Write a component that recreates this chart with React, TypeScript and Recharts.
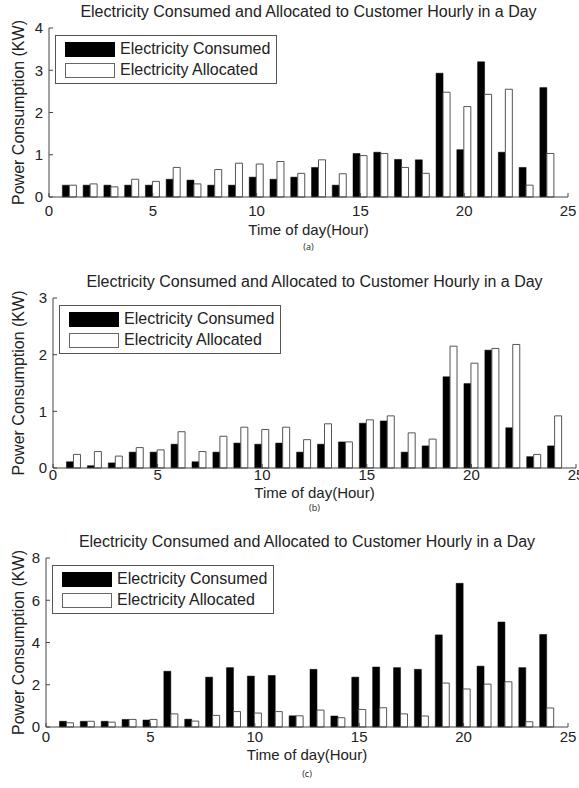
import React from "react";
import { BarChart, Bar, XAxis, YAxis, Legend, Label } from "recharts";

const hours = [1, 2, 3, 4, 5, 6, 7, 8, 9, 10, 11, 12, 13, 14, 15, 16, 17, 18, 19, 20, 21, 22, 23, 24];
const xTicks = [0, 5, 10, 15, 20, 25];

// (a)
const consumedA = [0.28, 0.28, 0.28, 0.28, 0.28, 0.42, 0.4, 0.28, 0.28, 0.47, 0.42, 0.47, 0.7, 0.28, 1.03, 1.06, 0.89, 0.88, 2.93, 1.12, 3.2, 1.06, 0.7, 2.59];
const allocatedA = [0.28, 0.31, 0.24, 0.42, 0.37, 0.7, 0.31, 0.65, 0.8, 0.78, 0.84, 0.56, 0.88, 0.55, 0.98, 1.03, 0.7, 0.56, 2.48, 2.14, 2.43, 2.55, 0.28, 1.03];
const yTicksA = [0, 1, 2, 3, 4];

// (b)
const consumedB = [0.11, 0.04, 0.09, 0.28, 0.28, 0.42, 0.11, 0.28, 0.44, 0.42, 0.44, 0.28, 0.42, 0.46, 0.79, 0.83, 0.28, 0.39, 1.61, 1.49, 2.08, 0.71, 0.2, 0.39];
const allocatedB = [0.24, 0.29, 0.21, 0.36, 0.32, 0.64, 0.29, 0.56, 0.72, 0.68, 0.72, 0.5, 0.78, 0.46, 0.85, 0.92, 0.62, 0.51, 2.15, 1.85, 2.11, 2.18, 0.24, 0.92];
const yTicksB = [0, 1, 2, 3];

// (c)
const consumedC = [0.27, 0.27, 0.27, 0.36, 0.33, 2.64, 0.37, 2.36, 2.81, 2.41, 2.44, 0.53, 2.73, 0.52, 2.36, 2.84, 2.81, 2.73, 4.36, 6.8, 2.88, 4.97, 2.81, 4.38];
const allocatedC = [0.2, 0.27, 0.23, 0.36, 0.36, 0.62, 0.28, 0.55, 0.73, 0.66, 0.73, 0.53, 0.8, 0.44, 0.83, 0.91, 0.62, 0.52, 2.08, 1.8, 2.03, 2.14, 0.25, 0.9];
const yTicksC = [0, 2, 4, 6, 8];

const seriesNames = ["Electricity Consumed", "Electricity Allocated"];
const titleText = "Electricity Consumed and Allocated to Customer Hourly in a Day";

const FONT = "'Liberation Sans', Arial, sans-serif";
const INK = "#222";
const AXIS = "#444";
const FS = 16;
const TICK_FS = 15;

const LegendBox = () => (
  <div
    style={{
      width: 222,
      height: 49,
      boxSizing: "border-box",
      border: "1px solid #555",
      background: "#fff",
      fontFamily: FONT,
      fontSize: FS,
      color: INK,
      position: "relative",
    }}
  >
    {seriesNames.map((name, i) => (
      <div
        key={name}
        style={{ position: "absolute", left: 9, top: 5 + i * 21, height: 16, display: "flex", alignItems: "center" }}
      >
        <span
          style={{
            display: "inline-block",
            width: 50,
            height: 15,
            boxSizing: "border-box",
            background: i === 0 ? "#000" : "#fff",
            border: i === 0 ? "1px solid #000" : "1px solid #666",
          }}
        />
        <span style={{ marginLeft: 5, whiteSpace: "nowrap" }}>{name}</span>
      </div>
    ))}
  </div>
);

type PanelProps = {
  top: number;
  height: number;
  plotLeft: number;
  plotRight: number;
  plotTop: number;
  plotBottom: number;
  yTicks: number[];
  consumed: number[];
  allocated: number[];
  tag: string;
  titleY: number;
  tickMargin: number;
  xLabelOffset: number;
  tagY: number;
};

const Panel = (p: PanelProps) => {
  const data = hours.map((h, i) => ({ hour: h, consumed: p.consumed[i], allocated: p.allocated[i] }));
  const yMax = p.yTicks[p.yTicks.length - 1];
  const plotCenter = (p.plotLeft + p.plotRight) / 2;
  return (
    <div style={{ position: "absolute", left: 0, top: p.top, width: 579, height: p.height }}>
      <div
        style={{
          position: "absolute",
          left: plotCenter - 270,
          width: 540,
          top: p.titleY - 10,
          lineHeight: "20px",
          textAlign: "center",
          fontFamily: FONT,
          fontSize: FS,
          color: INK,
          whiteSpace: "nowrap",
        }}
      >
        {titleText}
      </div>
      <BarChart
        width={579}
        height={p.height}
        data={data}
        margin={{ top: p.plotTop, right: 579 - p.plotRight, left: 0, bottom: 0 }}
        barGap={0}
        barSize={7}
      >
        <XAxis
          xAxisId="b"
          type="number"
          dataKey="hour"
          domain={[0, 25]}
          ticks={xTicks}
          interval={0}
          height={p.height - p.plotBottom}
          tickSize={-4}
          tickMargin={p.tickMargin}
          stroke={AXIS}
          tick={{ fill: INK, fontSize: TICK_FS, fontFamily: FONT }}
        >
          <Label
            value="Time of day(Hour)"
            position="insideTop"
            offset={p.xLabelOffset}
            fill={INK}
            fontSize={TICK_FS}
            fontFamily={FONT}
          />
        </XAxis>
        <XAxis
          xAxisId="t"
          orientation="top"
          type="number"
          dataKey="hour"
          domain={[0, 25]}
          ticks={xTicks}
          interval={0}
          height={0}
          tickSize={-4}
          tick={false}
          stroke={AXIS}
        />
        <YAxis
          yAxisId="l"
          type="number"
          domain={[0, yMax]}
          ticks={p.yTicks}
          interval={0}
          width={p.plotLeft}
          tickSize={-4}
          tickMargin={10}
          stroke={AXIS}
          tick={{ fill: INK, fontSize: TICK_FS, fontFamily: FONT }}
        >
          <Label
            value="Power Consumption (KW)"
            angle={-90}
            position="insideLeft"
            offset={18}
            fill={INK}
            fontSize={FS}
            fontFamily={FONT}
            style={{ textAnchor: "middle" }}
          />
        </YAxis>
        <YAxis
          yAxisId="r"
          orientation="right"
          type="number"
          domain={[0, yMax]}
          ticks={p.yTicks}
          interval={0}
          width={0}
          tickSize={-4}
          tick={false}
          stroke={AXIS}
        />
        <Legend
          layout="vertical"
          align="center"
          verticalAlign="middle"
          content={() => <LegendBox />}
          wrapperStyle={{ left: p.plotLeft + 6, top: p.plotTop + 7, width: 222, height: 49 }}
        />
        <Bar
          xAxisId="b"
          yAxisId="l"
          dataKey="consumed"
          name={seriesNames[0]}
          fill="#000"
          stroke="#000"
          strokeWidth={0.5}
          isAnimationActive={false}
        />
        <Bar
          xAxisId="b"
          yAxisId="l"
          dataKey="allocated"
          name={seriesNames[1]}
          fill="#fff"
          stroke="#555"
          strokeWidth={1}
          isAnimationActive={false}
        />
      </BarChart>
      <div
        style={{
          position: "absolute",
          left: plotCenter - 15,
          width: 30,
          top: p.tagY - 6,
          lineHeight: "12px",
          textAlign: "center",
          fontFamily: "'Open Sans', sans-serif",
          fontSize: 9,
          color: INK,
        }}
      >
        {p.tag}
      </div>
    </div>
  );
};

export default function App() {
  return (
    <div style={{ position: "absolute", left: 0, top: 0, width: 579, height: 788, background: "#fff", overflow: "hidden" }}>
      <Panel
        top={0}
        height={260}
        plotLeft={49}
        plotRight={568}
        plotTop={28}
        plotBottom={197}
        yTicks={yTicksA}
        consumed={consumedA}
        allocated={allocatedA}
        tag="(a)"
        titleY={12}
        tickMargin={12}
        xLabelOffset={27}
        tagY={247}
      />
      <Panel
        top={270}
        height={258}
        plotLeft={53}
        plotRight={576}
        plotTop={28}
        plotBottom={198}
        yTicks={yTicksB}
        consumed={consumedB}
        allocated={allocatedB}
        tag="(b)"
        titleY={12}
        tickMargin={5}
        xLabelOffset={19}
        tagY={238}
      />
      <Panel
        top={530}
        height={258}
        plotLeft={46}
        plotRight={568}
        plotTop={28}
        plotBottom={197}
        yTicks={yTicksC}
        consumed={consumedC}
        allocated={allocatedC}
        tag="(c)"
        titleY={12}
        tickMargin={8}
        xLabelOffset={22}
        tagY={244}
      />
    </div>
  );
}
